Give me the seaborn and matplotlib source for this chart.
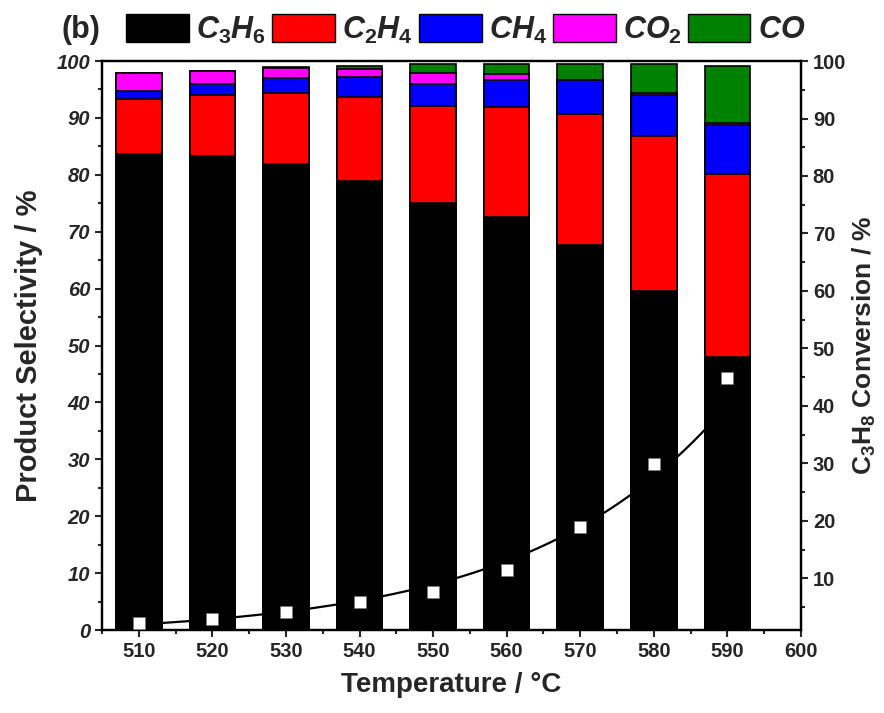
import numpy as np
import pandas as pd
import matplotlib
matplotlib.use("Agg")
import matplotlib.pyplot as plt
from matplotlib.patches import Patch
from matplotlib.ticker import MultipleLocator
import seaborn as sns

# ---------------- data ----------------
temps = [510, 520, 530, 540, 550, 560, 570, 580, 590]
c3h6 = [83.7, 83.3, 81.9, 79.0, 75.0, 72.6, 67.6, 59.6, 48.0]
c2h4 = [9.6, 10.7, 12.5, 14.7, 17.1, 19.3, 23.1, 27.3, 32.1]
ch4 = [1.4, 1.9, 2.7, 3.5, 3.8, 4.8, 5.9, 7.1, 8.7]
co2 = [3.2, 2.4, 1.7, 1.4, 2.0, 1.0, 0.0, 0.3, 0.3]
co = [0.0, 0.0, 0.2, 0.5, 1.5, 1.7, 2.8, 5.1, 10.0]
conversion = [2.3, 2.9, 4.1, 5.8, 7.7, 11.4, 19.0, 29.8, 44.9]

series_names = ["C3H6", "C2H4", "CH4", "CO2", "CO"]
legend_labels = [r"$C_3H_6$", r"$C_2H_4$", r"$CH_4$", r"$CO_2$", r"$CO$"]
series_colors = ["#000000", "#ff0000", "#0000ff", "#ff00ff", "#008000"]

# ---------------- style ----------------
sns.set_style("ticks")
plt.rcParams["font.family"] = ["Liberation Sans", "DejaVu Sans"]
plt.rcParams["mathtext.fontset"] = "custom"
plt.rcParams["mathtext.rm"] = "Liberation Sans:bold"
plt.rcParams["mathtext.it"] = "Liberation Sans:bold:italic"
plt.rcParams["mathtext.bf"] = "Liberation Sans:bold"

df = pd.DataFrame({"T": temps, "C3H6": c3h6, "C2H4": c2h4, "CH4": ch4,
                   "CO2": co2, "CO": co})
cum = df[series_names].cumsum(axis=1)
cum["T"] = df["T"]

fig = plt.figure(figsize=(8.84, 7.13), dpi=100)
ax = fig.add_axes([0.1154, 0.1164, 0.7907, 0.7980])

# stacked bars drawn as overlapping cumulative layers (tallest first)
for name, color in reversed(list(zip(series_names, series_colors))):
    sns.barplot(data=cum, x="T", y=name, native_scale=True, width=0.62,
                color=color, saturation=1, edgecolor="black", linewidth=1.2,
                errorbar=None, ax=ax, zorder=2)

ax.set_xlim(505, 600)
ax.set_ylim(0, 100)
ax.set_xticks(list(range(510, 601, 10)))
ax.xaxis.set_minor_locator(MultipleLocator(5))
ax.yaxis.set_major_locator(MultipleLocator(10))
ax.yaxis.set_minor_locator(MultipleLocator(5))
ax.tick_params(axis="both", which="major", direction="out", length=5, width=1.5,
               labelsize=14.5)
ax.tick_params(axis="both", which="minor", direction="out", length=3, width=1.5)
for lab in ax.get_yticklabels():
    lab.set_fontweight("bold")
    lab.set_fontstyle("italic")
for lab in ax.get_xticklabels():
    lab.set_fontweight("bold")
ax.set_xlabel("Temperature / °C", fontsize=20, fontweight="bold", labelpad=8)
ax.set_ylabel("Product Selectivity / %", fontsize=21, fontweight="bold", labelpad=10)

# conversion on the right axis
ax2 = ax.twinx()
logfit = np.polyfit(np.array(temps, float), np.log(conversion), 1)
fit_t = np.linspace(temps[0], temps[-1], 200)
fit_y = np.exp(np.polyval(logfit, fit_t))
sns.lineplot(x=fit_t, y=fit_y, ax=ax2, color="black", linewidth=1.6)
sns.scatterplot(x=temps, y=conversion, ax=ax2, marker="s", s=80,
                color="white", edgecolor="#777777", linewidth=0.4, zorder=5)
ax2.set_ylim(1, 100)
ax2.set_yticks(list(range(10, 101, 10)))
ax2.yaxis.set_minor_locator(MultipleLocator(5))
ax2.tick_params(axis="y", which="major", direction="out", length=5, width=1.5,
                labelsize=14.5)
ax2.tick_params(axis="y", which="minor", direction="out", length=3, width=1.5)
for lab in ax2.get_yticklabels():
    lab.set_fontweight("bold")
ax2.set_ylabel(r"$\mathrm{C_3H_8}$ Conversion / %", fontsize=19,
               fontweight="bold", labelpad=3)

for a in (ax, ax2):
    for sp in a.spines.values():
        sp.set_linewidth(1.6)
        sp.set_color("black")

# legend across the top
handles = [Patch(facecolor=c, edgecolor="black", linewidth=1.0) for c in series_colors]
fig.legend(handles, legend_labels, loc="center left", bbox_to_anchor=(0.1425, 0.958),
           ncol=5, frameon=False, fontsize=22, handlelength=2.06, handleheight=1.0,
           handletextpad=0.23, columnspacing=0.2, borderpad=0, borderaxespad=0)
fig.text(0.07, 0.958, "(b)", fontsize=22, fontweight="bold", va="center", ha="left")

fig.savefig("out.png", dpi=100)
